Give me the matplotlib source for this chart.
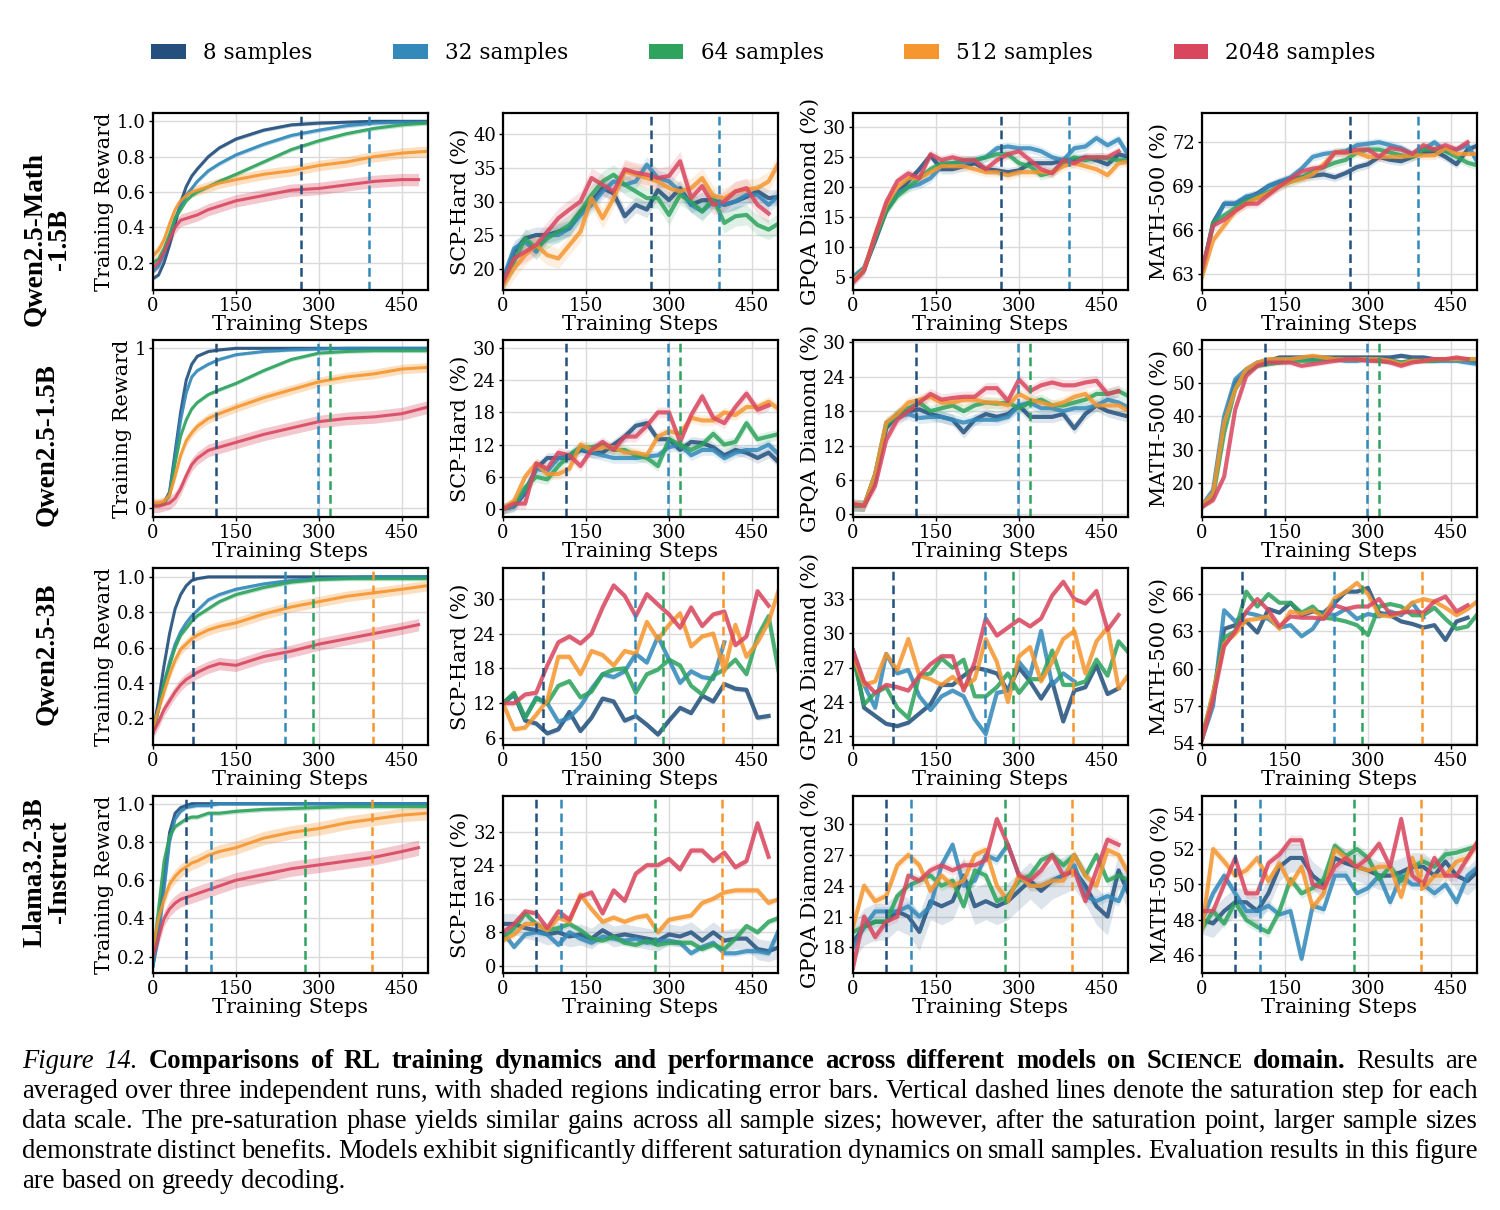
import numpy as np
import matplotlib
matplotlib.use("Agg")
import matplotlib.pyplot as plt
from matplotlib.patches import Patch

plt.rcParams['font.family'] = 'DejaVu Serif'

SAMPLE_LABELS = ['8 samples', '32 samples', '64 samples', '512 samples', '2048 samples']
COLORS = ['#23507c', '#3389ba', '#2ea35d', '#f5962f', '#d9475f']
MODELS = ['Qwen2.5-Math\n-1.5B', 'Qwen2.5-1.5B', 'Qwen2.5-3B', 'Llama3.2-3B\n-Instruct']
METRICS = ['Training Reward', 'SCP-Hard (%)', 'GPQA Diamond (%)', 'MATH-500 (%)']
X_TICKS = [0, 150, 300, 450]
EVAL_STEPS = list(range(0, 520, 20))
TRAIN_STEPS = [0, 10, 20, 30, 40, 50, 60, 70, 80, 100, 120, 150, 200, 250, 300, 350, 400, 450, 495]
# last logged step of each run (the 2048 run is shorter on some models)
TRAIN_LAST = [[495, 495, 495, 495, 480], [495, 495, 495, 495, 495],
              [495, 495, 495, 495, 480], [495, 495, 495, 495, 480]]

# saturation step for each data scale: (step, sample index)
SAT_STEPS = [[(268, 0), (390, 1)],
             [(114, 0), (298, 1), (319, 2)],
             [(72, 0), (238, 1), (289, 2), (398, 3)],
             [(60, 0), (104, 1), (274, 2), (395, 3)]]

# ---------------- training reward (8, 32, 64, 512, 2048 samples) ----------------
R1_TRAIN = [
    [0.11, 0.13, 0.2, 0.3, 0.42, 0.54, 0.63, 0.69, 0.73, 0.8, 0.85, 0.9, 0.95, 0.98, 0.99, 0.995, 1.0, 1.0, 1.0],
    [0.15, 0.18, 0.25, 0.35, 0.45, 0.52, 0.58, 0.62, 0.66, 0.72, 0.76, 0.81, 0.87, 0.92, 0.95, 0.975, 0.99, 0.995, 0.995],
    [0.2, 0.22, 0.28, 0.36, 0.45, 0.5, 0.55, 0.58, 0.6, 0.63, 0.66, 0.7, 0.77, 0.84, 0.89, 0.93, 0.96, 0.98, 0.99],
    [0.24, 0.27, 0.33, 0.42, 0.5, 0.55, 0.58, 0.6, 0.61, 0.63, 0.65, 0.67, 0.7, 0.72, 0.75, 0.77, 0.8, 0.82, 0.83],
    [0.17, 0.2, 0.26, 0.33, 0.4, 0.44, 0.45, 0.46, 0.47, 0.5, 0.52, 0.55, 0.58, 0.61, 0.62, 0.64, 0.66, 0.67, 0.67],
]
R2_TRAIN = [
    [0.02, 0.02, 0.03, 0.1, 0.35, 0.6, 0.8, 0.9, 0.95, 0.98, 0.99, 1.0, 1.0, 1.0, 1.0, 1.0, 1.0, 1.0, 1.0],
    [0.02, 0.02, 0.03, 0.09, 0.32, 0.55, 0.72, 0.82, 0.86, 0.9, 0.93, 0.96, 0.98, 0.99, 0.995, 1.0, 1.0, 1.0, 1.0],
    [0.02, 0.02, 0.03, 0.08, 0.28, 0.45, 0.55, 0.62, 0.66, 0.71, 0.74, 0.78, 0.86, 0.93, 0.97, 0.98, 0.985, 0.985, 0.985],
    [0.03, 0.03, 0.04, 0.08, 0.2, 0.33, 0.42, 0.47, 0.51, 0.56, 0.59, 0.63, 0.69, 0.74, 0.79, 0.82, 0.84, 0.87, 0.88],
    [0.01, 0.01, 0.02, 0.03, 0.06, 0.12, 0.2, 0.27, 0.31, 0.36, 0.38, 0.41, 0.46, 0.5, 0.54, 0.56, 0.57, 0.59, 0.63],
]
R3_TRAIN = [
    [0.12, 0.3, 0.5, 0.68, 0.82, 0.9, 0.95, 0.98, 0.99, 1.0, 1.0, 1.0, 1.0, 1.0, 1.0, 1.0, 1.0, 1.0, 1.0],
    [0.12, 0.25, 0.4, 0.52, 0.62, 0.69, 0.74, 0.78, 0.81, 0.87, 0.9, 0.93, 0.96, 0.98, 0.99, 0.995, 1.0, 1.0, 1.0],
    [0.12, 0.25, 0.4, 0.5, 0.6, 0.67, 0.71, 0.75, 0.78, 0.82, 0.86, 0.9, 0.94, 0.97, 0.985, 0.99, 0.99, 0.99, 0.99],
    [0.15, 0.25, 0.35, 0.45, 0.53, 0.59, 0.62, 0.65, 0.67, 0.7, 0.72, 0.74, 0.79, 0.83, 0.86, 0.89, 0.91, 0.93, 0.95],
    [0.12, 0.18, 0.25, 0.3, 0.35, 0.39, 0.42, 0.44, 0.46, 0.49, 0.51, 0.5, 0.55, 0.58, 0.62, 0.65, 0.68, 0.71, 0.73],
]
R4_TRAIN = [
    [0.15, 0.35, 0.6, 0.85, 0.95, 0.98, 0.99, 1.0, 1.0, 1.0, 1.0, 1.0, 1.0, 1.0, 1.0, 1.0, 1.0, 1.0, 1.0],
    [0.15, 0.3, 0.55, 0.8, 0.92, 0.96, 0.98, 0.985, 0.99, 0.99, 1.0, 1.0, 1.0, 1.0, 1.0, 1.0, 1.0, 1.0, 1.0],
    [0.2, 0.45, 0.7, 0.83, 0.88, 0.9, 0.92, 0.93, 0.93, 0.95, 0.95, 0.96, 0.97, 0.975, 0.98, 0.985, 0.985, 0.985, 0.985],
    [0.25, 0.4, 0.5, 0.58, 0.62, 0.65, 0.67, 0.69, 0.7, 0.73, 0.75, 0.77, 0.82, 0.85, 0.87, 0.9, 0.92, 0.94, 0.95],
    [0.2, 0.3, 0.4, 0.45, 0.48, 0.5, 0.51, 0.52, 0.53, 0.55, 0.57, 0.6, 0.63, 0.66, 0.68, 0.7, 0.72, 0.75, 0.77],
]
TRAIN_NOISE = [[0.01, 0.012, 0.012, 0.03, 0.035], [0.008, 0.01, 0.012, 0.03, 0.04],
               [0.008, 0.012, 0.012, 0.03, 0.035], [0.008, 0.01, 0.012, 0.035, 0.04]]

# ---------------- evaluation, every 20 steps ----------------
R1_SCP = [
    [18, 22.5, 24.5, 25, 25, 25.5, 26, 28.5, 30, 32, 31.2, 27.8, 29.5, 28.8, 31.7, 30.2, 32, 29.5, 30.2, 30.2, 29.5, 30, 30.7, 31.5, 30.5, 30.7],
    [18.5, 23, 24, 22.5, 25, 25, 26, 28, 29.5, 31.5, 33, 32.5, 33, 35.5, 33.5, 33, 31.5, 29.5, 28.5, 30, 29.5, 30, 31, 31, 29.5, 31],
    [18, 21, 24.5, 23, 24.5, 25.5, 26.5, 28.5, 31, 33, 34, 32.5, 31.5, 30.5, 30.5, 28, 31, 30, 28.5, 30.5, 26.8, 27.8, 28, 26.5, 25.8, 26.8],
    [17.5, 20, 22, 23.5, 22, 21.5, 23.5, 25.5, 30.5, 27.5, 30.5, 34.5, 34, 33.5, 33, 32, 31.5, 32, 33.5, 30.8, 30.5, 31.5, 31.8, 32, 33, 36],
    [18, 21.5, 22.5, 23.5, 25.5, 27.5, 28.8, 30, 33.5, 32.5, 31.5, 34.8, 34.3, 34, 33.5, 33.8, 36, 30.5, 32.3, 29.5, 30, 31.5, 32, 29.5, 28.2],
]
R1_GPQA = [
    [4.8, 6.3, 11, 16, 19, 21, 23, 25.3, 23, 23, 23.5, 24, 23, 22.8, 22.5, 22.8, 24, 24, 24, 24.5, 24.5, 25, 24.5, 23.8, 25.5, 25],
    [5, 6.5, 11.5, 16.5, 19, 20, 20.5, 21.5, 23.5, 24, 24, 24.5, 25, 26.5, 26.8, 26.5, 26.5, 26, 25, 24.5, 26.5, 26.8, 28.2, 27, 28, 25],
    [4.5, 6.2, 11.5, 16, 18.5, 20, 21.5, 23, 24, 24, 24.5, 24.5, 25, 25.5, 25.5, 24, 23.5, 22, 22.5, 24, 25, 24.5, 25, 24.8, 24.5, 24.5],
    [4.3, 6.2, 12, 17, 20, 21.5, 21.5, 22.5, 23.5, 23.5, 23.5, 23, 22.5, 22.5, 22, 22.5, 22.5, 22.5, 22.5, 23.5, 24, 23.5, 23, 22, 24, 24.3],
    [4, 6, 12, 17.5, 21, 22.3, 21.5, 25.5, 24.5, 25, 24.5, 24.5, 23, 24.5, 25.5, 26, 24.5, 23, 22.3, 24.5, 24, 25, 25, 25, 26],
]
R1_MATH = [
    [63, 66.5, 67.8, 67.8, 68.2, 68.5, 69, 69.3, 69.5, 69.6, 69.7, 69.8, 69.6, 69.9, 70.3, 70.5, 71, 70.8, 70.7, 71, 71.3, 71.4, 71, 70.5, 71.5, 71.8],
    [63.2, 66.3, 67.8, 67.8, 68.3, 68.4, 69, 69.3, 69.6, 70.2, 71, 71.2, 71.3, 71.4, 71.8, 71.9, 72, 71.8, 71.6, 71.2, 71.5, 72, 71.4, 71.5, 71.8, 70.5],
    [63, 66.5, 67, 67.5, 68, 68.2, 68.6, 69, 69.3, 69.6, 70, 70.3, 70.6, 70.8, 71.3, 71.5, 71.5, 71.3, 71.1, 71, 71.5, 71.5, 71.4, 71, 70.6, 70.4],
    [62.8, 65.3, 66.3, 67.3, 67.8, 68.2, 68.5, 69, 69.3, 69.5, 69.8, 70.5, 71.3, 71.3, 71.3, 71, 71, 71, 71, 71.1, 71.1, 71.1, 71.6, 71.2, 71.2, 71.2],
    [63.3, 66.3, 66.7, 67.3, 67.8, 67.8, 68.4, 69, 69.5, 70, 70.2, 70.3, 71.3, 71.3, 71.5, 71.5, 71, 71.6, 71.5, 71.2, 71.8, 71.5, 71.8, 71.5, 72],
]
R2_SCP = [
    [0, 0.5, 3, 7.5, 9.5, 9.5, 9.5, 11, 10.5, 10.5, 12, 13.5, 15.5, 16, 13, 13, 11, 12.5, 12.3, 11.5, 10, 11, 10.5, 9.5, 10.5, 8.5],
    [0, 0.5, 3.5, 7.5, 7, 9.5, 10, 11.5, 10.5, 10, 9.5, 9.5, 9.5, 9.8, 10, 11.5, 12, 10, 11, 11, 9.5, 10.5, 11, 11, 12, 10],
    [0, 1, 4, 6, 5.5, 8, 10, 11.5, 11.5, 12, 11, 11, 10, 9.5, 8, 13, 12, 11, 12, 14, 12, 12.5, 16, 13, 13.5, 14],
    [0, 1.5, 6, 8.5, 6.5, 6.5, 7.5, 12, 11, 11.5, 11.5, 10.5, 10.5, 10, 13.5, 14.5, 14, 17, 16.5, 16.5, 18, 17.5, 19, 19, 20, 18.5],
    [0, 1, 1, 8.5, 7.5, 10.5, 10, 8, 11, 12.5, 11, 13.5, 13.5, 15.5, 18, 18, 12.5, 17.5, 21, 17, 16, 19, 21.5, 18.5, 19.3],
]
R2_GPQA = [
    [1.5, 1.5, 6, 15, 17.5, 18, 18.3, 17.5, 17, 16.5, 14.3, 16.5, 17.5, 17, 17.5, 19, 17, 17, 17, 17.5, 15, 17.5, 19, 18, 17.5, 17],
    [1.5, 1.5, 7, 16, 17, 17.5, 16.8, 17, 17, 16.5, 16, 16.5, 16.5, 16.5, 17, 19, 19.5, 18.5, 18.5, 18, 18.5, 18.5, 19, 20, 19.5, 18.5],
    [1.5, 1.5, 7, 15.5, 17.5, 18.5, 19.5, 18, 18.5, 19, 18, 19, 19.5, 19.3, 19.5, 18.5, 19.5, 20, 19, 19, 19.5, 20, 21, 21, 21.5, 20.5],
    [1.8, 1.5, 7, 16, 17.5, 19.5, 20, 20.5, 19.5, 19.5, 20, 20, 19.5, 19.5, 19, 21, 20, 19.5, 19, 19.5, 20.5, 21, 19, 19, 19, 18],
    [1.8, 1.5, 5, 13, 16.5, 18, 19.5, 21, 20, 20.3, 20.5, 20.5, 22, 22, 19.8, 23.5, 21.5, 22.5, 23, 22.5, 22.5, 23, 23.3, 21, 21.5],
]
R2_MATH = [
    [13, 17, 38, 50, 53, 55.5, 56.5, 57.5, 57.5, 57.5, 57.5, 57.5, 57.5, 57.5, 57.5, 57.5, 57.5, 57.5, 58, 57.5, 57.5, 57, 57, 57, 57, 56],
    [13.5, 18, 40, 51, 54, 56, 56.5, 56.5, 57, 57, 57, 57, 57, 56.5, 56.5, 57, 56.5, 56.5, 56, 56.5, 56.5, 56.5, 56.5, 56.5, 56, 55.5],
    [13, 16, 35, 48, 53, 55, 55.5, 56, 56.5, 56.5, 56.5, 57, 57, 57, 57, 57, 56.5, 56.5, 56, 56.5, 56.5, 56.5, 57, 57, 57, 57],
    [13.5, 17, 38, 48, 54, 56, 57, 57, 57, 57.5, 58, 57.5, 57, 57, 57, 57, 57, 56.5, 55.5, 56.5, 56.5, 57, 57, 57, 57, 57],
    [13, 15, 22, 42, 52, 55, 56, 56, 56, 55, 55.5, 56, 56.5, 57, 57, 56.5, 56.5, 56, 55, 56, 56.5, 57, 57, 57.5, 57],
]
R3_SCP = [
    [12, 13.5, 9, 8.5, 6.8, 7.5, 10.5, 7.2, 9.5, 12.8, 12.3, 9, 9.8, 8.3, 6.6, 9, 11.2, 10.3, 13.3, 12.3, 15.3, 14.5, 14.3, 9.5, 9.8],
    [12, 13.5, 9.5, 13, 12, 8.8, 9.5, 11.5, 14.5, 17, 16.5, 17.5, 20.5, 19, 23.5, 19.5, 15.5, 17.5, 16.5, 16.2, 22.5],
    [12, 13.8, 9.5, 12.8, 12, 15, 15.8, 13, 14, 17, 17.8, 18, 13.8, 17, 17.8, 19.5, 18.5, 15, 13.5, 16.8, 17.8, 19.5, 17, 23.5, 27, 16.5],
    [12, 7.5, 7.8, 10, 12.5, 20, 20, 17, 21, 20.3, 18.5, 21, 20.5, 26, 23, 25.5, 27.5, 21.8, 23.5, 24, 17.5, 25.5, 20, 22.5, 26, 32],
    [12, 12, 13.5, 13.8, 18.5, 22.5, 23.5, 22.3, 24, 28.5, 32.3, 30.5, 27, 30.8, 29, 27.3, 25, 28.5, 25.3, 27.3, 27.8, 22, 23.5, 31.3, 28.8],
]
R3_GPQA = [
    [28.5, 23.5, 22.8, 22.1, 21.9, 22.2, 23, 23.8, 25.5, 25.5, 26.3, 27, 26.8, 26.5, 25, 27, 25.8, 24.3, 25.8, 22.3, 25, 25.3, 27.2, 24.7, 25.2],
    [28.5, 25.5, 23.5, 28.2, 26.5, 26.8, 24.5, 23.3, 24.5, 25, 24.5, 22.5, 21.2, 24.8, 25, 27.5, 26.3, 30.2, 25.5, 26.5, 25.8],
    [28, 23.8, 24.8, 25.3, 23.5, 22.6, 26.3, 26.5, 27.8, 27, 27.7, 24.5, 24.5, 25.3, 26.5, 24.8, 26, 26, 28.5, 25.5, 25.5, 25.8, 27.7, 26.3, 29.3, 28.2],
    [28, 25.5, 25.8, 28.2, 26.8, 29.5, 26.3, 26, 25.5, 26.2, 25.3, 26, 29.5, 27.5, 24, 28, 28.8, 25.8, 27.5, 29.5, 30.2, 26.5, 29.3, 30.5, 25.2, 26.5],
    [28.5, 25.8, 24.8, 25.5, 25.3, 25, 26.3, 27.3, 28, 28, 25, 27.5, 31.3, 29.8, 30.5, 31.2, 30.6, 31.3, 33.3, 34.5, 33, 32.6, 33.7, 30.3, 31.6],
]
R3_MATH = [
    [54.5, 57.5, 63.2, 63.5, 63.8, 62.9, 64.8, 64.5, 65.3, 64.3, 64.6, 64.5, 65.3, 66.2, 66.2, 66.5, 64.5, 64.3, 63.8, 63.6, 63.3, 63.5, 62.3, 63.8, 64.1],
    [54.3, 57, 64.7, 63.8, 64.5, 64.3, 64, 63.3, 63.5, 62.6, 63.2, 64.5, 64.3, 64.8, 64, 64.4, 64.2, 64.6, 64.3, 65.3, 64.1],
    [54.5, 58, 62.5, 63, 66.2, 65, 66, 65.3, 65.3, 64.5, 65, 64.1, 64, 63.8, 63.5, 62.7, 65, 65.2, 65, 64.3, 64.3, 64.9, 64, 63.2, 63.4, 64.5],
    [54.3, 58, 62, 62.8, 63.9, 64, 64.2, 63.2, 64.6, 64.4, 64.7, 64.1, 65.7, 66.2, 66.9, 66, 64.3, 64.2, 64.5, 65.3, 65.6, 65.4, 64.9, 64.3, 64.8, 65.5],
    [54.3, 57.5, 61.8, 63, 64.6, 65.6, 64.7, 63.4, 64.2, 64.1, 64.1, 64, 65.1, 64.8, 65, 65, 65.6, 64.4, 64.5, 64.6, 64.5, 65.4, 65.8, 64.6, 65.1],
]
R4_SCP = [
    [10, 10, 9, 8.5, 7.5, 8, 7, 7.5, 6.5, 8.5, 7, 7.5, 7, 6.5, 6, 7.5, 7, 8, 6, 8, 6, 6.5, 6.5, 4, 3.5, 4.5],
    [8, 4.5, 7.5, 8, 7.5, 5, 8, 6.5, 5.5, 7, 6.5, 6, 6.5, 5.5, 6, 6, 5.5, 3, 4.5, 5.5, 3, 3, 3.5, 3.5, 3, 9],
    [6.5, 9, 12.5, 10, 8.5, 9, 10, 8.5, 6.5, 6, 7, 5.5, 5, 6, 5, 5.5, 5.5, 5.5, 4, 5, 4, 6.5, 9.5, 8, 10.5, 11.5],
    [6, 7.5, 10, 10, 8.5, 11.5, 10.5, 17, 13.5, 10.5, 11.5, 10.5, 11.5, 12, 8, 11, 11.5, 12, 15, 16, 17.5, 18, 18, 18, 15, 16],
    [8, 10, 13, 12.5, 9, 13, 11, 16.5, 17.5, 12.5, 18, 15.5, 22, 24, 24, 25.5, 23, 27.5, 27.5, 25, 27, 23.5, 25, 34, 26],
]
R4_GPQA = [
    [18.5, 20, 20.5, 20.5, 21.5, 21, 19.5, 22.5, 22, 22.5, 25, 22, 22.5, 22, 22.5, 23.5, 24.5, 23.5, 24.5, 25, 25.5, 24, 22, 21, 25.5, 23],
    [18, 20, 21.5, 21.5, 21.5, 22, 21, 22, 26, 28, 24, 24.5, 27, 26.5, 28, 25, 24, 24, 24.5, 25, 26, 23, 22.5, 23, 22.5, 25],
    [19.5, 20, 20.5, 20.5, 23, 24, 24.5, 25, 24, 24.5, 22, 25.5, 25, 22.5, 23, 24.5, 25, 26.5, 27, 26, 27, 25, 27, 24.5, 25, 24.5],
    [20, 24, 22.5, 23, 26, 27, 26, 23.5, 25, 24, 24.5, 27, 27.5, 24, 22.5, 25, 24, 24, 24.5, 24.5, 27, 25, 24, 27.5, 27, 25],
    [16, 21, 19, 20.5, 21, 25, 24.5, 25.5, 26, 25.5, 26, 26, 26.5, 30.5, 28, 25, 24.5, 25.5, 27, 25, 25.5, 22.5, 25.5, 28.5, 28],
]
R4_MATH = [
    [48, 47.8, 48.5, 49, 49, 48.5, 49.5, 51, 51.5, 51.5, 50.5, 50, 51.5, 51.2, 51, 50.8, 50.5, 50.5, 50.7, 51, 51, 50.5, 51.3, 50.5, 50.2, 50.8],
    [48, 49.5, 50.5, 49.5, 48.5, 48.5, 48.8, 48.3, 48.5, 45.8, 48.8, 48.6, 50.5, 50.5, 49.5, 49.8, 50.5, 49, 50.5, 50, 50, 49.5, 50, 49, 50.5, 51],
    [47.5, 48.5, 47.8, 49, 48, 47.6, 47.3, 48.5, 50.3, 49.5, 49.8, 50.3, 52.2, 51.6, 52, 51.5, 50.3, 51, 50.2, 51, 51.3, 51, 51.7, 51.8, 52, 52.2],
    [47.5, 52, 51.3, 50.5, 50.8, 51.5, 50.2, 51.2, 50, 51, 48.7, 49.5, 52, 51.5, 51, 50.8, 51, 51, 49.3, 51.5, 49.8, 50.5, 50.5, 51.3, 51.5, 52.5],
    [48.5, 48.5, 50, 51.5, 49.5, 49.5, 51.2, 51.7, 52.5, 52.5, 50, 49.8, 51, 51.5, 51, 51.5, 52.3, 51, 53.7, 50.5, 50, 51.5, 50.5, 50.5, 51.5, 52.5],
]

# half-width of the shaded error region, per panel and series
R1_BANDS = [[1.2, 1.2, 1.5, 1.5, 1.5], [0.8, 0.8, 0.8, 0.8, 0.8], [0.3, 0.3, 0.3, 0.3, 0.3]]
R2_BANDS = [[1.0, 1.0, 1.0, 1.0, 1.0], [1.0, 1.0, 1.0, 1.0, 1.0], [0.8, 0.8, 0.8, 0.8, 0.8]]
R3_BANDS = [[0.5, 0.5, 0.5, 0.5, 0.5], [0.2, 0.2, 0.2, 0.2, 0.2], [0.15, 0.15, 0.15, 0.15, 0.15]]
R4_BANDS = [[2.5, 0.8, 0.8, 0.8, 0.8], [1.8, 0.5, 0.5, 0.5, 0.5], [0.8, 0.3, 0.3, 0.3, 0.3]]

Y_LIMS = [[(0.045, 1.047), (16.8, 43.2), (2.8, 32.4), (61.9, 74.0)],
          [(-0.058, 1.052), (-1.5, 31.5), (-0.45, 30.4), (10, 62.7)],
          [(0.05, 1.05), (4.8, 35.3), (20.25, 35.7), (53.85, 68.1)],
          [(0.115, 1.04), (-1.7, 40.5), (15.5, 32.75), (45, 55)]]
Y_TICKS = [[[0.2, 0.4, 0.6, 0.8, 1.0], [20, 25, 30, 35, 40], [5, 10, 15, 20, 25, 30], [63, 66, 69, 72]],
           [[0, 1], [0, 6, 12, 18, 24, 30], [0, 6, 12, 18, 24, 30], [20, 30, 40, 50, 60]],
           [[0.2, 0.4, 0.6, 0.8, 1.0], [6, 12, 18, 24, 30], [21, 24, 27, 30, 33], [54, 57, 60, 63, 66]],
           [[0.2, 0.4, 0.6, 0.8, 1.0], [0, 8, 16, 24, 32], [18, 21, 24, 27, 30], [46, 48, 50, 52, 54]]]

TRAIN = [R1_TRAIN, R2_TRAIN, R3_TRAIN, R4_TRAIN]
EVALS = [[R1_SCP, R1_GPQA, R1_MATH], [R2_SCP, R2_GPQA, R2_MATH],
         [R3_SCP, R3_GPQA, R3_MATH], [R4_SCP, R4_GPQA, R4_MATH]]
BANDS = [R1_BANDS, R2_BANDS, R3_BANDS, R4_BANDS]

CAPTION = [
    [("Figure 14.", "it"),
     ("Comparisons of RL training dynamics and performance across different models on", "bf"),
     ("SCIENCE", "sc"), ("domain.", "bf"), ("Results are", "rm")],
    [("averaged over three independent runs, with shaded regions indicating error bars. "
      "Vertical dashed lines denote the saturation step for each", "rm")],
    [("data scale. The pre-saturation phase yields similar gains across all sample sizes; "
      "however, after the saturation point, larger sample sizes", "rm")],
    [("demonstrate distinct benefits. Models exhibit significantly different saturation "
      "dynamics on small samples. Evaluation results in this figure", "rm")],
    [("are based on greedy decoding.", "rm")],
]

FIG_W, FIG_H = 1500, 1210
AX_LEFT = [153, 503, 853, 1202]
AX_TOP = [113, 340, 568, 796]
AX_W, AX_H = 275, 177


def style_axis(ax, r, c):
    ax.set_xlim(0, 497)
    ax.set_ylim(*Y_LIMS[r][c])
    ax.set_xticks(X_TICKS)
    ticks = Y_TICKS[r][c]
    ax.set_yticks(ticks)
    if any(t != int(t) for t in ticks):
        ax.set_yticklabels(['%.1f' % t for t in ticks])
    else:
        ax.set_yticklabels(['%d' % t for t in ticks])
    ax.grid(True, color='#dadada', lw=1.0)
    ax.set_axisbelow(True)
    for s in ax.spines.values():
        s.set_linewidth(1.6)
        s.set_color('black')
    ax.tick_params(labelsize=13, length=3, width=1.0, pad=2)
    ax.set_xlabel('Training Steps', fontsize=15, labelpad=0)
    ax.set_ylabel(METRICS[c], fontsize=15, labelpad=2)


def draw_train(ax, r):
    for k, vals in enumerate(TRAIN[r]):
        x = TRAIN_STEPS[:-1] + [TRAIN_LAST[r][k]]
        y = np.array(vals)
        nz = TRAIN_NOISE[r][k]
        ax.fill_between(x, y - nz, y + nz, color=COLORS[k], alpha=0.3, lw=0)
        ax.plot(x, y, color=COLORS[k], lw=2.2, alpha=0.9)


def draw_eval(ax, series, bands):
    for k, vals in enumerate(series):
        x = EVAL_STEPS[:len(vals)]
        y = np.array(vals)
        ax.fill_between(x, y - bands[k], y + bands[k], color=COLORS[k], alpha=0.15, lw=0)
        ax.plot(x, y, color=COLORS[k], lw=3, alpha=0.85)


fig = plt.figure(figsize=(FIG_W / 100, FIG_H / 100), dpi=100)

for r in range(4):
    for c in range(4):
        ax = fig.add_axes([AX_LEFT[c] / FIG_W, 1 - (AX_TOP[r] + AX_H) / FIG_H,
                           AX_W / FIG_W, AX_H / FIG_H])
        if c == 0:
            draw_train(ax, r)
        else:
            draw_eval(ax, EVALS[r][c - 1], BANDS[r][c - 1])
        for step, k in SAT_STEPS[r]:
            ax.axvline(step, color=COLORS[k], ls=(0, (3.5, 2)), lw=1.8)
        style_axis(ax, r, c)

# model names on the left
ROW_LABEL_Y = [239, 445, 654, 872]
for r in range(4):
    fig.text(47 / FIG_W, 1 - ROW_LABEL_Y[r] / FIG_H, MODELS[r], rotation=90,
             ha='center', va='center', fontsize=19.5, fontweight='bold',
             family='Liberation Serif', linespacing=1.0, multialignment='center')

handles = [Patch(facecolor=col, edgecolor='none') for col in COLORS]
fig.legend(handles, SAMPLE_LABELS, loc='center', bbox_to_anchor=(0.509, 1 - 53 / FIG_H),
           ncol=5, frameon=False, fontsize=15.5, handlelength=1.6, handleheight=0.75,
           handletextpad=0.8, columnspacing=3.75)

# justified caption, word by word
CAP_SIZE = 19.2
CAP_LEFT, CAP_RIGHT = 22, 1478
CAP_BASE = 1068
CAP_STEP = 30
renderer = fig.canvas.get_renderer()


def make_word(word, kind):
    kw = dict(family='Liberation Serif', va='baseline', ha='left')
    if kind == 'it':
        parts = [fig.text(0, 0, word, size=CAP_SIZE, style='italic', **kw)]
    elif kind == 'bf':
        parts = [fig.text(0, 0, word, size=CAP_SIZE, weight='bold', **kw)]
    elif kind == 'sc':
        parts = [fig.text(0, 0, word[0], size=CAP_SIZE, weight='bold', **kw),
                 fig.text(0, 0, word[1:], size=CAP_SIZE * 0.78, weight='bold', **kw)]
    else:
        parts = [fig.text(0, 0, word, size=CAP_SIZE, **kw)]
    widths = [p.get_window_extent(renderer).width for p in parts]
    return parts, widths


for i, line in enumerate(CAPTION):
    words = []
    for text, kind in line:
        for w in text.split(' '):
            words.append(make_word(w, kind))
    total = sum(sum(wd) for _, wd in words)
    if i < len(CAPTION) - 1:
        gap = (CAP_RIGHT - CAP_LEFT - total) / (len(words) - 1)
    else:
        gap = CAP_SIZE * 1.389 * 0.25
    x = CAP_LEFT
    y = 1 - (CAP_BASE + i * CAP_STEP) / FIG_H
    for parts, widths in words:
        for p, wd in zip(parts, widths):
            p.set_position((x / FIG_W, y))
            x += wd
        x += gap

fig.savefig('out.png', dpi=100)
